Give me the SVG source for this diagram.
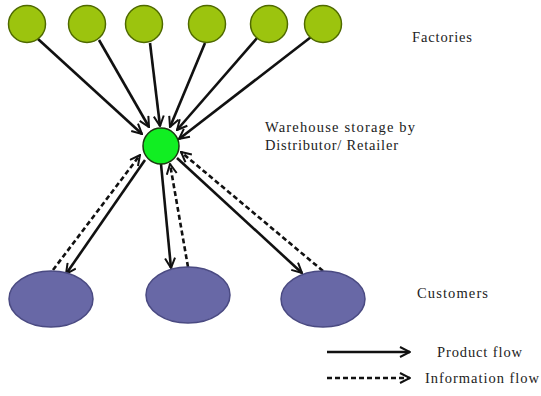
<svg xmlns="http://www.w3.org/2000/svg" width="541" height="396" viewBox="0 0 541 396">
<style>
.fac{fill:#9cc40e;stroke:#4f6a00;stroke-width:1.5}
.wh{fill:#11ee22;stroke:#1a3a10;stroke-width:1.5}
.cust{fill:#6868a6;stroke:#4a4a82;stroke-width:1.5}
.prod{stroke:#111;stroke-width:2.6;fill:none;marker-end:url(#arr)}
.info{stroke:#111;stroke-width:2.6;fill:none;stroke-dasharray:5,3;marker-end:url(#arr)}
.t{font-family:"Liberation Serif",serif;font-size:14.5px;fill:#222}
</style>
<defs>
<marker id="arr" markerUnits="userSpaceOnUse" viewBox="0 0 12 12" refX="11" refY="6" markerWidth="12" markerHeight="12" orient="auto">
<path d="M1,1 L11,6 L1,11" fill="none" stroke="#111" stroke-width="2"/>
</marker>
</defs>
<g id="connectors">
<line class="prod" x1="38" y1="39" x2="142" y2="134"/>
<line class="prod" x1="99" y1="40" x2="149" y2="127"/>
<line class="prod" x1="150" y1="43" x2="160" y2="126"/>
<line class="prod" x1="205" y1="43" x2="170" y2="127"/>
<line class="prod" x1="258" y1="37" x2="177" y2="130"/>
<line class="prod" x1="311" y1="37" x2="179" y2="139"/>
<line class="prod" x1="145" y1="160" x2="66" y2="274"/>
<line class="info" x1="53" y1="270" x2="140" y2="155"/>
<line class="prod" x1="161" y1="164" x2="171" y2="268"/>
<line class="info" x1="188" y1="267" x2="170" y2="164"/>
<line class="prod" x1="177" y1="158" x2="302" y2="273"/>
<line class="info" x1="323" y1="271" x2="181" y2="152"/>
</g>
<g id="factory1"><circle class="fac" cx="27" cy="24" r="18.5"/></g>
<g id="factory2"><circle class="fac" cx="87" cy="24" r="18.5"/></g>
<g id="factory3"><circle class="fac" cx="144" cy="24" r="18.5"/></g>
<g id="factory4"><circle class="fac" cx="207" cy="24" r="18.5"/></g>
<g id="factory5"><circle class="fac" cx="269" cy="24" r="18.5"/></g>
<g id="factory6"><circle class="fac" cx="323" cy="24" r="18.5"/></g>
<g id="warehouse"><circle class="wh" cx="161" cy="146" r="18"/></g>
<g id="customer1"><ellipse class="cust" cx="51" cy="299" rx="42" ry="28"/></g>
<g id="customer2"><ellipse class="cust" cx="188" cy="295" rx="42" ry="28"/></g>
<g id="customer3"><ellipse class="cust" cx="323" cy="299" rx="42" ry="28"/></g>
<g id="labels">
<text class="t" x="412" y="42" textLength="60">Factories</text>
<text class="t" x="265" y="132" textLength="150">Warehouse storage by</text>
<text class="t" x="265" y="150" textLength="133">Distributor/ Retailer</text>
<text class="t" x="417" y="298" textLength="71">Customers</text>
</g>
<g id="legend">
<line class="prod" x1="327" y1="352" x2="410" y2="352"/>
<line class="info" x1="327" y1="378" x2="410" y2="378"/>
<text class="t" x="437" y="357" textLength="85">Product flow</text>
<text class="t" x="425" y="383" textLength="114">Information flow</text>
</g>
</svg>
